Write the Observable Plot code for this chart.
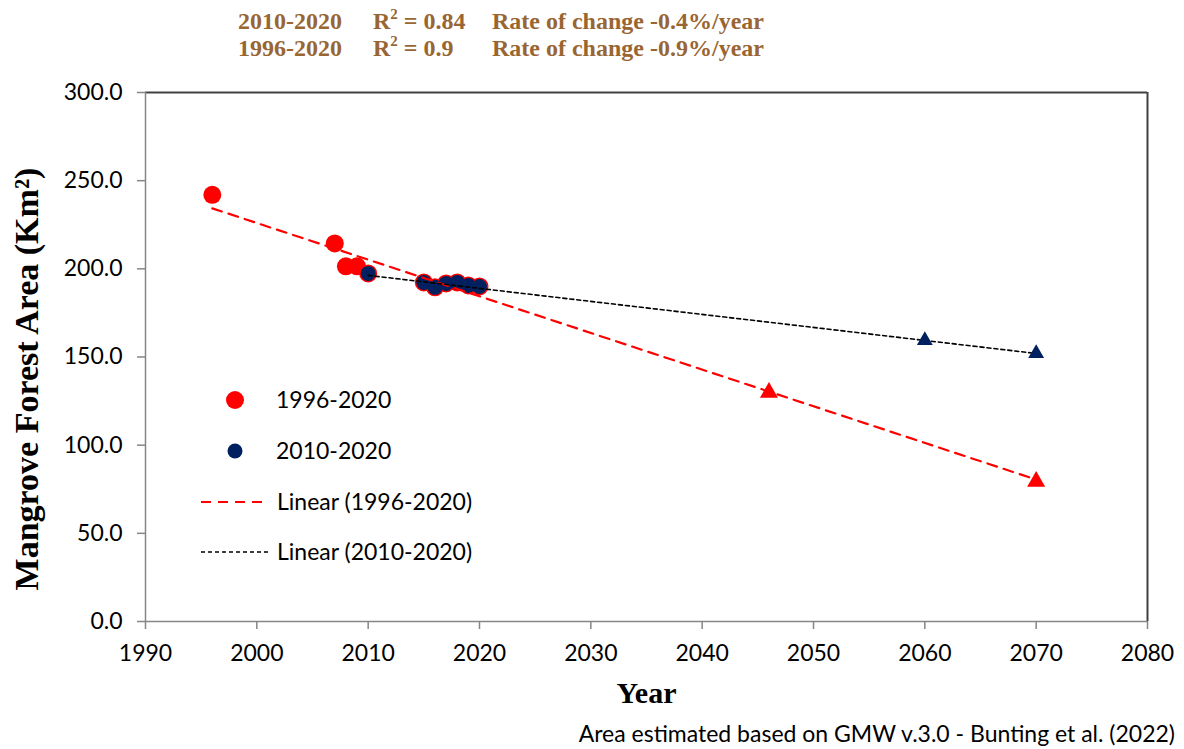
<!DOCTYPE html>
<html>
<head>
<meta charset="utf-8">
<script src="https://cdn.jsdelivr.net/npm/d3@7"></script>
<script src="https://cdn.jsdelivr.net/npm/@observablehq/plot@0.6"></script>
<style>
  body { margin: 0; background: #fff; }
  #wrap { position: relative; width: 1184px; height: 749px; overflow: hidden; background: #fff; }
  #header { position: relative; height: 66px; font: bold 24px "Liberation Serif", "Times New Roman", serif; color: #996633; }
  #header span { position: absolute; line-height: 24px; white-space: nowrap; }
  #header sup { font-size: 15px; position: relative; top: -1px; vertical-align: super; line-height: 0; }
  #chart svg { display: block; }
  #caption { height: 28px; line-height: 28px; text-align: right; padding-right: 9px; font: 23px Lato, sans-serif; color: #000; white-space: nowrap; }
  #legend { position: absolute; left: 0; top: 0; width: 1184px; height: 749px; pointer-events: none; }
  #legend div { position: absolute; font: 23px Lato, sans-serif; color: #000; line-height: 28px; white-space: nowrap; }
</style>
</head>
<body>
<div id="wrap">
  <div id="header"></div>
  <div id="chart"></div>
  <div id="caption"></div>
  <div id="legend"></div>
</div>
<script>
// ---- data ----
const years1996 = [1996, 2007, 2008, 2009, 2010, 2015, 2016, 2017, 2018, 2019, 2020];
const area1996  = [242.0, 214.4, 201.4, 201.4, 197.4, 192.3, 189.5, 191.7, 192.3, 190.6, 190.0];
const years2010 = [2010, 2015, 2016, 2017, 2018, 2019, 2020];
const area2010  = [197.4, 192.3, 189.5, 191.7, 192.3, 190.6, 190.0];
const projYears1996 = [2046, 2070];
const projArea1996  = [129.9, 79.4];
const projYears2010 = [2060, 2070];
const projArea2010  = [159.4, 152.0];
const trendYears1996 = [1996, 2070];
const trendArea1996  = [234.3, 80.5];
const trendYears2010 = [2010, 2070];
const trendArea2010  = [196.3, 152.0];
const xTicks = [1990, 2000, 2010, 2020, 2030, 2040, 2050, 2060, 2070, 2080];
const yTicks = [0, 50, 100, 150, 200, 250, 300];
const legendLabels = ["1996-2020", "2010-2020", "Linear (1996-2020)", "Linear (2010-2020)"];
const headerRows = [
  ["2010-2020", "0.84", "Rate of change -0.4%/year"],
  ["1996-2020", "0.9", "Rate of change -0.9%/year"]
];
const xLabel = "Year";
const yLabel = "Mangrove Forest Area (Km\u00B2)";
const caption = "Area estimated based on GMW v.3.0 - Bunting et al. (2022)";

const RED = "#ff0000", NAVY = "#002060", AXIS = "#868686", FRAMEC = "#404040";

const pts = (xs, ys) => xs.map((x, i) => ({year: x, area: ys[i]}));

// ---- header ----
const header = document.getElementById("header");
headerRows.forEach((row, i) => {
  const top = 9 + i * 27;
  const a = document.createElement("span"); a.style.left = "238px"; a.style.top = top + "px"; a.textContent = row[0];
  const b = document.createElement("span"); b.style.left = "373px"; b.style.top = top + "px"; b.innerHTML = "R<sup>2</sup> = " + row[1];
  const c = document.createElement("span"); c.style.left = "492px"; c.style.top = top + "px"; c.textContent = row[2];
  header.append(a, b, c);
});

// ---- chart ----
const serif = "Liberation Serif, Times New Roman, serif";
const chart = Plot.plot({
  width: 1184,
  height: 653,
  marginLeft: 145,
  marginRight: 37,
  marginTop: 26,
  marginBottom: 98,
  style: {fontFamily: "Lato, sans-serif", fontSize: "23px", color: "#000", background: "#fff"},
  x: {domain: [1990, 2080]},
  y: {domain: [0, 300]},
  marks: [
    Plot.ruleY([300], {stroke: FRAMEC, strokeWidth: 2}),
    Plot.ruleX([2080], {stroke: FRAMEC, strokeWidth: 2}),
    Plot.ruleX([1990], {stroke: AXIS, strokeWidth: 1.5}),
    Plot.ruleY([0], {stroke: AXIS, strokeWidth: 1.5}),
    Plot.axisX({ticks: xTicks, tickFormat: d => String(d), tickSize: 8, tickPadding: 15, stroke: AXIS, strokeWidth: 1.5, fill: "#000", fontSize: 23, label: null}),
    Plot.axisY({ticks: yTicks, tickFormat: d => d.toFixed(1), tickSize: 8, tickPadding: 15, stroke: AXIS, strokeWidth: 1.5, fill: "#000", fontSize: 23, label: null}),
    Plot.dot(pts(years1996, area1996), {x: "year", y: "area", r: 9, fill: RED}),
    Plot.dot(pts(years2010, area2010), {x: "year", y: "area", r: 7.5, fill: NAVY}),
    Plot.line(pts(trendYears1996, trendArea1996), {x: "year", y: "area", stroke: RED, strokeWidth: 2.2, strokeDasharray: "10,7"}),
    Plot.line(pts(trendYears2010, trendArea2010), {x: "year", y: "area", stroke: "#000", strokeWidth: 1.6, strokeDasharray: "4,3"}),
    Plot.dot(pts(projYears1996, projArea1996), {x: "year", y: "area", r: 6.7, symbol: "triangle", fill: RED}),
    Plot.dot(pts(projYears2010, projArea2010), {x: "year", y: "area", r: 5.9, symbol: "triangle", fill: NAVY}),
    Plot.text([xLabel], {frameAnchor: "bottom", dy: 81, fontFamily: serif, fontSize: 30, fontWeight: "bold", fill: "#000"}),
    Plot.text([yLabel], {frameAnchor: "left", textAnchor: "middle", rotate: -90, dx: -118, dy: 22, fontFamily: serif, fontSize: 34, fontWeight: "bold", fill: "#000"})
  ]
});
document.getElementById("chart").append(chart);

document.getElementById("caption").textContent = caption;

// ---- legend (overlay, page coordinates) ----
const legend = document.getElementById("legend");
const legendSvg = d3.select(legend).append("svg").attr("width", 1184).attr("height", 749).style("position", "absolute").style("left", 0).style("top", 0);
legendSvg.append("circle").attr("cx", 235).attr("cy", 400).attr("r", 9).attr("fill", RED);
legendSvg.append("circle").attr("cx", 235).attr("cy", 451).attr("r", 7.5).attr("fill", NAVY);
legendSvg.append("line").attr("x1", 201).attr("x2", 265).attr("y1", 502).attr("y2", 502).attr("stroke", RED).attr("stroke-width", 2.2).attr("stroke-dasharray", "10,7");
legendSvg.append("line").attr("x1", 201).attr("x2", 268).attr("y1", 552).attr("y2", 552).attr("stroke", "#000").attr("stroke-width", 1.6).attr("stroke-dasharray", "4,3");
const legendY = [400, 451, 502, 552];
legendLabels.forEach((t, i) => {
  const d = document.createElement("div");
  d.style.left = (i < 2 ? 276 : 277) + "px";
  d.style.top = (legendY[i] - 15) + "px";
  d.textContent = t;
  legend.append(d);
});
</script>
</body>
</html>
